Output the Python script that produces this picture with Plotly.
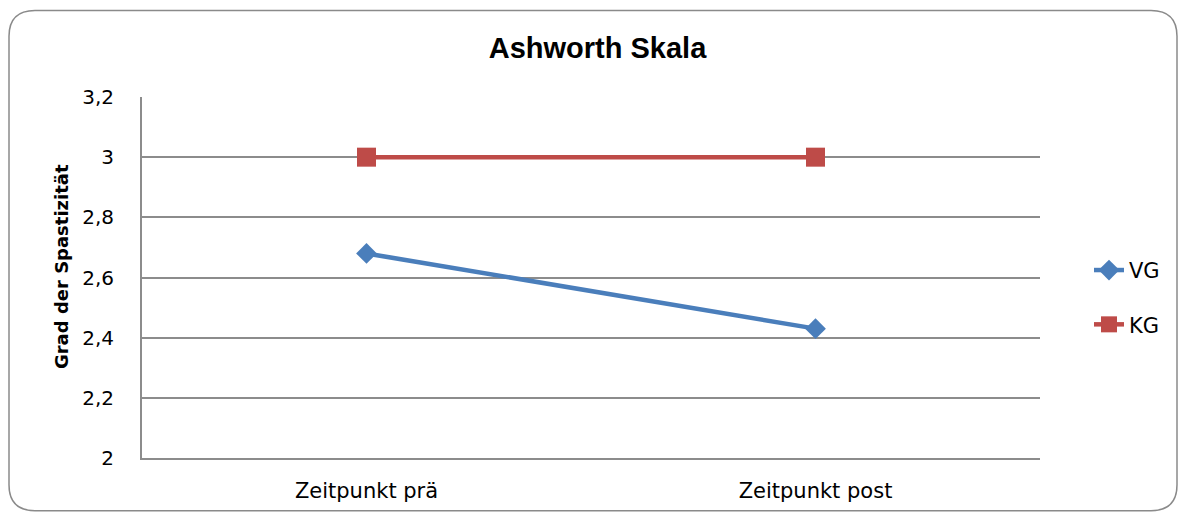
import plotly.graph_objects as go

categories = ["Zeitpunkt prä", "Zeitpunkt post"]
vg_values = [2.68, 2.43]
kg_values = [3.0, 3.0]
y_ticks = [2.0, 2.2, 2.4, 2.6, 2.8, 3.0, 3.2]
y_tick_labels = ["2", "2,2", "2,4", "2,6", "2,8", "3", "3,2"]

OFF = 8  # default page body margin
W, H = 1187 - OFF, 515 - OFF
# plot area in page pixels: left 142, right 1040, top 97, bottom 460
L, T = 142 - OFF, 97 - OFF
R = W - (1040 - OFF)
B = H - (460 - OFF)
pw, ph = W - L - R, H - T - B

def px(x):  # page pixel -> paper
    return (x - OFF - L) / pw

def py(y):
    return (H - B - (y - OFF)) / ph

BLUE = "#4A7EBB"
RED = "#BE4B48"
GRID = "#8C8C8C"
FONT = "DejaVu Sans, sans-serif"

fig = go.Figure()
fig.add_trace(go.Scatter(
    x=categories, y=vg_values, name="VG", mode="lines+markers",
    line=dict(color=BLUE, width=4.5),
    marker=dict(symbol="diamond", size=16, color=BLUE),
    legendgroup="a",
))
fig.add_trace(go.Scatter(
    x=categories, y=kg_values, name="KG", mode="lines+markers",
    line=dict(color=RED, width=4.5),
    marker=dict(symbol="square", size=19, color=RED),
    legendgroup="b",
))

# rounded chart border (page pixel coordinates)
x0, x1, y0, y1, r = 9, 1177, 10, 513, 26
path = (
    f"M {px(x0+r)},{py(y0)} L {px(x1-r)},{py(y0)} "
    f"Q {px(x1)},{py(y0)} {px(x1)},{py(y0+r)} "
    f"L {px(x1)},{py(y1-r)} Q {px(x1)},{py(y1)} {px(x1-r)},{py(y1)} "
    f"L {px(x0+r)},{py(y1)} Q {px(x0)},{py(y1)} {px(x0)},{py(y1-r)} "
    f"L {px(x0)},{py(y0+r)} Q {px(x0)},{py(y0)} {px(x0+r)},{py(y0)} Z"
)
fig.add_shape(type="path", path=path, xref="paper", yref="paper",
              line=dict(color="#8A8A8A", width=1.5), layer="below")

# y-axis title as annotation (positioned like the reference)
fig.add_annotation(text="<b>Grad der Spastizität</b>", textangle=-90,
                   xref="paper", yref="paper", x=px(61), y=py(268),
                   xanchor="center", yanchor="middle", showarrow=False,
                   font=dict(size=18, family=FONT))

fig.update_layout(
    width=W, height=H,
    margin=dict(l=L, r=R, t=T, b=B),
    paper_bgcolor="white", plot_bgcolor="white",
    font=dict(family=FONT, size=20, color="black"),
    title=dict(text="<b>Ashworth Skala</b>", x=0.5, xanchor="center",
               y=1 - (48 - OFF) / H, yanchor="middle",
               font=dict(family="Liberation Sans, Arial, sans-serif", size=29)),
    showlegend=True,
    legend=dict(x=px(1089), xanchor="left", y=py(298.5), yanchor="middle",
                font=dict(size=21), tracegroupgap=24,
                bgcolor="rgba(0,0,0,0)"),
)
fig.update_xaxes(
    type="category", showgrid=False, showline=True, linecolor=GRID,
    linewidth=1.8, ticks="", tickfont=dict(size=21), ticklabelstandoff=13,
    range=[-0.5, 1.5],
)
fig.update_yaxes(
    range=[2.0, 3.2], tickvals=y_ticks, ticktext=y_tick_labels,
    showgrid=True, gridcolor=GRID, gridwidth=1.8,
    showline=True, linecolor=GRID, linewidth=1.8,
    ticks="", tickfont=dict(size=20), ticklabelstandoff=22,
    zeroline=False,
)
fig.write_html("out.html")
